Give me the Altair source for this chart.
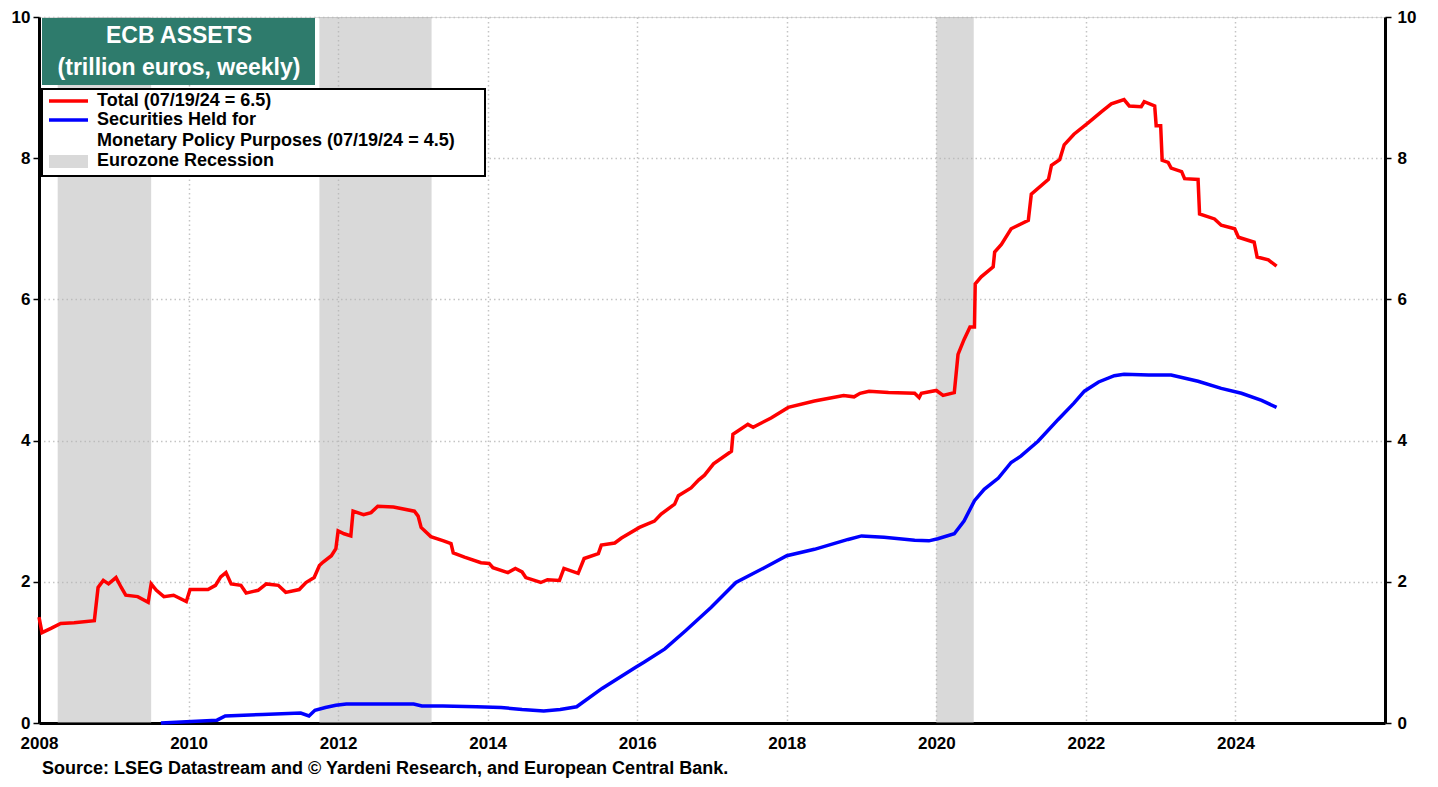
import altair as alt
import pandas as pd

# ---------------- data ----------------
years_total = [2008.00, 2008.04, 2008.16, 2008.29, 2008.47, 2008.74, 2008.79, 2008.86, 2008.93, 2009.03,
               2009.10, 2009.16, 2009.32, 2009.46, 2009.50, 2009.57, 2009.67, 2009.80, 2009.97, 2010.02,
               2010.26, 2010.36, 2010.43, 2010.50, 2010.57, 2010.70, 2010.77, 2010.93, 2011.04, 2011.20,
               2011.30, 2011.48, 2011.57, 2011.68, 2011.75, 2011.80, 2011.91, 2011.97, 2012.00, 2012.08,
               2012.17, 2012.20, 2012.34, 2012.44, 2012.53, 2012.74, 2013.02, 2013.07, 2013.11, 2013.24,
               2013.41, 2013.51, 2013.54, 2013.69, 2013.91, 2014.02, 2014.07, 2014.27, 2014.37, 2014.46,
               2014.51, 2014.71, 2014.80, 2014.96, 2015.02, 2015.21, 2015.29, 2015.48, 2015.52, 2015.70,
               2015.79, 2016.03, 2016.23, 2016.32, 2016.50, 2016.55, 2016.72, 2016.82, 2016.90, 2017.02,
               2017.26, 2017.28, 2017.48, 2017.55, 2017.79, 2018.02, 2018.37, 2018.76, 2018.90, 2018.98,
               2019.10, 2019.36, 2019.71, 2019.77, 2019.80, 2020.00, 2020.09, 2020.24, 2020.29, 2020.37,
               2020.45, 2020.51, 2020.52, 2020.60, 2020.76, 2020.78, 2020.87, 2021.00, 2021.23, 2021.27,
               2021.50, 2021.54, 2021.65, 2021.71, 2021.84, 2022.03, 2022.21, 2022.34, 2022.51, 2022.58,
               2022.74, 2022.78, 2022.92, 2022.94, 2023.00, 2023.02, 2023.10, 2023.14, 2023.28, 2023.32,
               2023.50, 2023.52, 2023.72, 2023.81, 2023.99, 2024.04, 2024.25, 2024.29, 2024.44, 2024.55]
total = [1.50, 1.28, 1.34, 1.41, 1.42, 1.45, 1.92, 2.02, 1.97, 2.06,
         1.92, 1.81, 1.79, 1.71, 1.97, 1.88, 1.79, 1.81, 1.72, 1.89,
         1.89, 1.95, 2.07, 2.13, 1.97, 1.95, 1.84, 1.88, 1.97, 1.95,
         1.85, 1.89, 1.99, 2.06, 2.23, 2.28, 2.37, 2.47, 2.72, 2.68,
         2.65, 3.00, 2.95, 2.98, 3.07, 3.06, 3.00, 2.93, 2.77, 2.64,
         2.58, 2.54, 2.41, 2.35, 2.27, 2.26, 2.20, 2.13, 2.19, 2.14,
         2.06, 1.99, 2.03, 2.02, 2.19, 2.12, 2.33, 2.40, 2.52, 2.55,
         2.62, 2.77, 2.86, 2.96, 3.10, 3.22, 3.33, 3.44, 3.51, 3.67,
         3.85, 4.09, 4.23, 4.19, 4.32, 4.47, 4.56, 4.64, 4.62, 4.67,
         4.70, 4.68, 4.67, 4.61, 4.67, 4.71, 4.64, 4.68, 5.22, 5.43,
         5.61, 5.61, 6.22, 6.32, 6.46, 6.67, 6.78, 7.00, 7.12, 7.49,
         7.70, 7.90, 7.98, 8.19, 8.34, 8.50, 8.66, 8.77, 8.83, 8.74,
         8.73, 8.80, 8.74, 8.46, 8.46, 7.97, 7.94, 7.86, 7.81, 7.71,
         7.70, 7.21, 7.14, 7.05, 7.00, 6.88, 6.81, 6.60, 6.56, 6.47]

years_sec = [2009.63, 2010.04, 2010.38, 2010.49, 2010.99, 2011.50, 2011.61, 2011.69, 2011.83, 2011.97,
             2012.11, 2013.01, 2013.12, 2013.40, 2013.85, 2014.18, 2014.46, 2014.75, 2014.97, 2015.19,
             2015.53, 2015.98, 2016.09, 2016.37, 2016.65, 2016.99, 2017.32, 2017.70, 2018.00, 2018.37,
             2018.82, 2019.00, 2019.30, 2019.71, 2019.90, 2020.02, 2020.24, 2020.37, 2020.51, 2020.64,
             2020.83, 2021.00, 2021.13, 2021.36, 2021.63, 2021.84, 2021.98, 2022.17, 2022.38, 2022.51,
             2022.84, 2023.14, 2023.50, 2023.81, 2024.08, 2024.35, 2024.55]
securities = [0.00, 0.02, 0.04, 0.10, 0.12, 0.14, 0.10, 0.18, 0.22, 0.25,
              0.27, 0.27, 0.24, 0.24, 0.23, 0.22, 0.19, 0.17, 0.19, 0.23,
              0.49, 0.79, 0.86, 1.05, 1.31, 1.64, 1.99, 2.20, 2.37, 2.46,
              2.60, 2.65, 2.63, 2.59, 2.58, 2.61, 2.68, 2.86, 3.15, 3.31,
              3.47, 3.69, 3.78, 3.99, 4.30, 4.53, 4.70, 4.83, 4.92, 4.94,
              4.93, 4.93, 4.84, 4.74, 4.67, 4.57, 4.47]

rec_start = [2008.25, 2011.75, 2020.00]
rec_end = [2009.50, 2013.25, 2020.50]

x_ticks = [2008, 2010, 2012, 2014, 2016, 2018, 2020, 2022, 2024]
y_ticks = [0, 2, 4, 6, 8, 10]

title_lines = ["ECB ASSETS", "(trillion euros, weekly)"]
legend_labels = ["Total (07/19/24 = 6.5)", "Securities Held for",
                 "Monetary Policy Purposes (07/19/24 = 4.5)", "Eurozone Recession"]
source_text = "Source: LSEG Datastream and \u00a9 Yardeni Research, and European Central Bank."

# ---------------- chart ----------------
FONT = "Liberation Sans"
RED = "#FF0000"
BLUE = "#0000FF"
GREEN = "#2E7B6C"
GRID = "#C4C4C4"

df_total = pd.DataFrame({"year": years_total, "value": total})
df_sec = pd.DataFrame({"year": years_sec, "value": securities})
df_rec = pd.DataFrame({"start": rec_start, "end": rec_end})
one = pd.DataFrame({"k": [0]})

xscale = alt.Scale(domain=[2008, 2026], nice=False, zero=False)
yscale = alt.Scale(domain=[0, 10], nice=False, zero=True)

lab = dict(labelFont=FONT, labelFontSize=17, labelFontWeight="bold", labelColor="black")

xaxis = alt.Axis(values=x_ticks, format="d", title=None, ticks=False, labelPadding=12,
                 labelFlush=False, labelOverlap=False,
                 grid=True, gridDash=[1.5, 3], gridColor=GRID, gridWidth=1.5,
                 domainColor="black", domainWidth=3, **lab)
yleft = alt.Axis(values=y_ticks, title=None, orient="left", grid=True, gridDash=[1.5, 3],
                 gridColor=GRID, gridWidth=1.5, tickSize=6, tickWidth=1.5, tickColor="black",
                 labelPadding=3, labelFlush=False, labelOverlap=False,
                 domainColor="black", domainWidth=3, **lab)
yright = alt.Axis(values=y_ticks, title=None, orient="right", grid=False, tickSize=6,
                  tickWidth=1.5, tickColor="black", labelPadding=6, labelFlush=False,
                  labelOverlap=False, domainColor="black", domainWidth=3, **lab)

rec = alt.Chart(df_rec).mark_rect(color="#B3B3B3", opacity=0.5).encode(
    x=alt.X("start:Q", scale=xscale, axis=xaxis), x2="end:Q")

red = alt.Chart(df_total).mark_line(color=RED, strokeWidth=3.5).encode(
    x=alt.X("year:Q", scale=xscale, axis=xaxis),
    y=alt.Y("value:Q", scale=yscale, axis=yleft))

blue = alt.Chart(df_sec).mark_line(color=BLUE, strokeWidth=3.5).encode(
    x=alt.X("year:Q", scale=xscale, axis=xaxis),
    y=alt.Y("value:Q", scale=yscale, axis=yright))

lines = alt.layer(rec, red, blue).resolve_axis(y="independent")

# title box
tbox = alt.Chart(one).mark_rect(fill=GREEN).encode(
    x=alt.value(3), x2=alt.value(276), y=alt.value(1), y2=alt.value(68))
ttext1 = alt.Chart(one).mark_text(font=FONT, fontSize=23, fontWeight="bold", color="white",
                                  align="center", baseline="middle", text=title_lines[0]).encode(
    x=alt.value(140), y=alt.value(19))
ttext2 = alt.Chart(one).mark_text(font=FONT, fontSize=23, fontWeight="bold", color="white",
                                  align="center", baseline="middle", text=title_lines[1]).encode(
    x=alt.value(140), y=alt.value(51))

# legend box
lbox = alt.Chart(one).mark_rect(fill="white", stroke="black", strokeWidth=2).encode(
    x=alt.value(3), x2=alt.value(446), y=alt.value(72), y2=alt.value(159))
lred = alt.Chart(one).mark_rule(color=RED, strokeWidth=3.5).encode(
    x=alt.value(10), x2=alt.value(49), y=alt.value(84))
lblue = alt.Chart(one).mark_rule(color=BLUE, strokeWidth=3.5).encode(
    x=alt.value(10), x2=alt.value(49), y=alt.value(103))
lgray = alt.Chart(one).mark_rect(fill="#D9D9D9").encode(
    x=alt.value(10), x2=alt.value(49), y=alt.value(138), y2=alt.value(151))

legend_y = [84, 103, 124, 144]
ltexts = [
    alt.Chart(one).mark_text(font=FONT, fontSize=18, fontWeight="bold", color="black",
                             align="left", baseline="middle", text=lb).encode(
        x=alt.value(58), y=alt.value(yy))
    for lb, yy in zip(legend_labels, legend_y)
]

source = alt.Chart(one).mark_text(font=FONT, fontSize=18, fontWeight="bold", color="black",
                                  align="left", baseline="middle", text=source_text).encode(
    x=alt.value(3), y=alt.value(752))

chart = alt.layer(
    lines, tbox, ttext1, ttext2, lbox, lred, lblue, lgray, *ltexts, source
).resolve_axis(y="independent").properties(
    width=1346, height=706,
    autosize=alt.AutoSizeParams(type="none"),
    padding={"left": 31, "top": 9, "right": 40, "bottom": 56},
).configure_view(
    stroke="black", strokeWidth=3
).configure(background="white")

chart.save("out.html", embed_options={"renderer": "svg", "actions": False})
